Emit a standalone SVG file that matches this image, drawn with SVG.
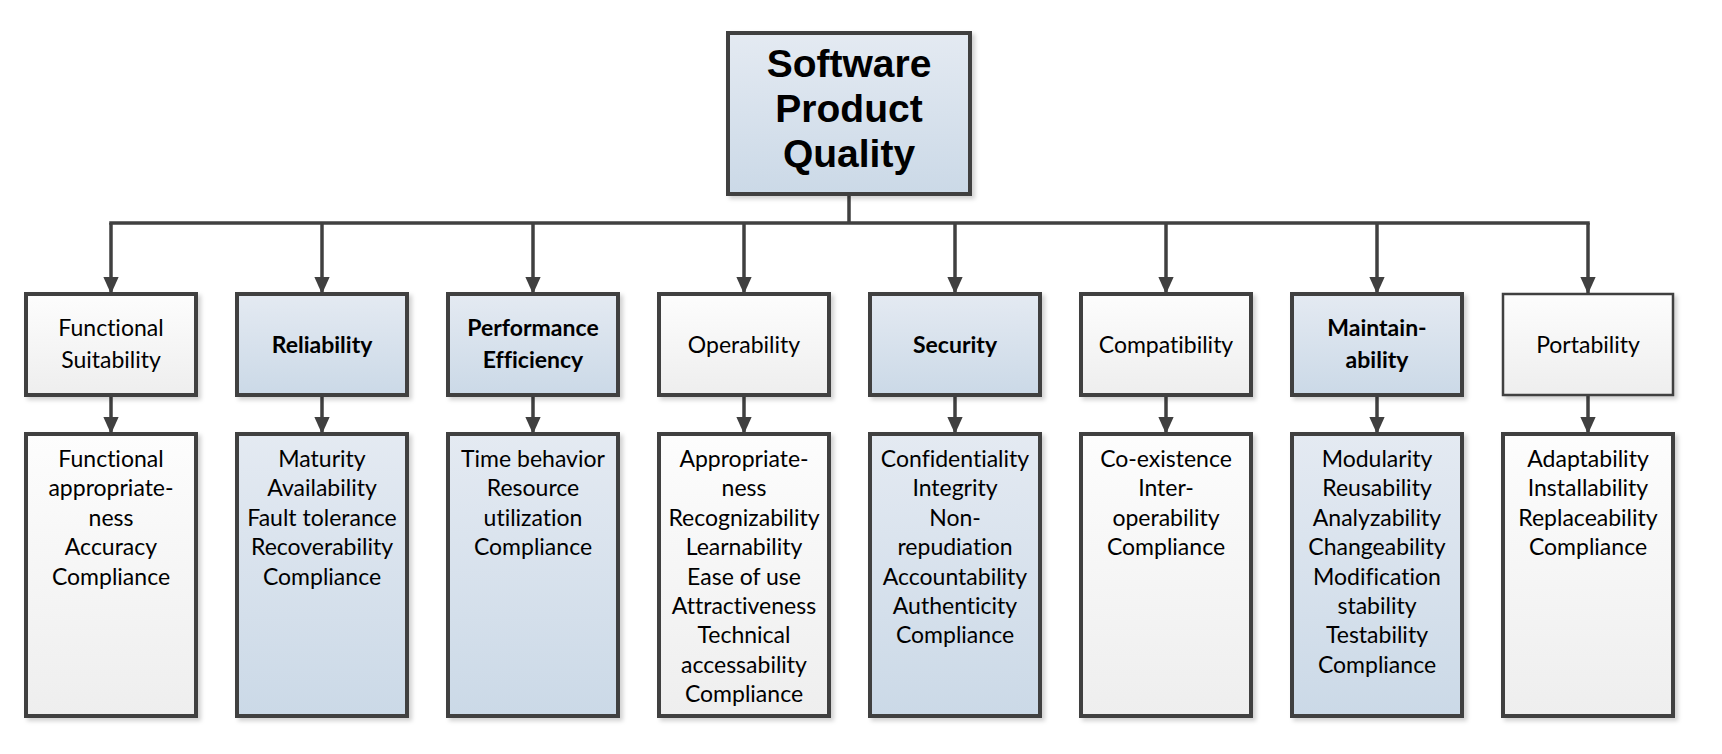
<svg xmlns="http://www.w3.org/2000/svg" width="1722" height="754" viewBox="0 0 1722 754">
<defs>
<linearGradient id="gBlue" x1="0" y1="0" x2="0" y2="1"><stop offset="0" stop-color="#e4eaf2"/><stop offset="1" stop-color="#cbd9e7"/></linearGradient>
<linearGradient id="gGray" x1="0" y1="0" x2="0" y2="1"><stop offset="0" stop-color="#fdfdfd"/><stop offset="1" stop-color="#eeeeee"/></linearGradient>
<filter id="sh" x="-10%" y="-10%" width="130%" height="130%"><feDropShadow dx="3" dy="3" stdDeviation="2" flood-color="#000" flood-opacity="0.18"/></filter>
<marker id="ah" viewBox="0 0 10 10" refX="10" refY="5" markerWidth="17" markerHeight="17" markerUnits="userSpaceOnUse" orient="auto"><path d="M0,0.5 L10,5 L0,9.5 Z" fill="#404040"/></marker>
<style>
.box{stroke:#404040;stroke-width:4;filter:url(#sh)}
.blue{fill:url(#gBlue)}
.gray{fill:url(#gGray)}
.t{font-family:Lato,"Open Sans",sans-serif;font-size:23px;fill:#000;text-anchor:middle;font-variant-ligatures:none}
.b{font-weight:bold}
.top{font-family:"Liberation Sans",Arial,sans-serif;font-weight:bold;font-size:39px;fill:#000;text-anchor:middle}
.ln{stroke:#404040;stroke-width:3.5;fill:none}
.ar{stroke:#404040;stroke-width:3.5;fill:none;marker-end:url(#ah)}
</style>
</defs>
<g id="connectors">
<path class="ln" d="M849,194 V223 M109.25,223 H1589.75"/>
<line class="ar" x1="111" y1="223" x2="111" y2="294"/>
<line class="ar" x1="322" y1="223" x2="322" y2="294"/>
<line class="ar" x1="533" y1="223" x2="533" y2="294"/>
<line class="ar" x1="744" y1="223" x2="744" y2="294"/>
<line class="ar" x1="955" y1="223" x2="955" y2="294"/>
<line class="ar" x1="1166" y1="223" x2="1166" y2="294"/>
<line class="ar" x1="1377" y1="223" x2="1377" y2="294"/>
<line class="ar" x1="1588" y1="223" x2="1588" y2="294"/>
<line class="ar" x1="111" y1="395" x2="111" y2="434"/>
<line class="ar" x1="322" y1="395" x2="322" y2="434"/>
<line class="ar" x1="533" y1="395" x2="533" y2="434"/>
<line class="ar" x1="744" y1="395" x2="744" y2="434"/>
<line class="ar" x1="955" y1="395" x2="955" y2="434"/>
<line class="ar" x1="1166" y1="395" x2="1166" y2="434"/>
<line class="ar" x1="1377" y1="395" x2="1377" y2="434"/>
<line class="ar" x1="1588" y1="395" x2="1588" y2="434"/>
</g>
<g id="root">
<rect class="box blue" x="728" y="33" width="242" height="161"/>
<text class="top" x="849" y="77">Software</text>
<text class="top" x="849" y="122">Product</text>
<text class="top" x="849" y="167">Quality</text>
</g>
<g id="functional">
<rect class="box gray" x="26" y="294" width="170" height="101"/>
<text class="t" x="111" y="336">Functional</text>
<text class="t" x="111" y="368">Suitability</text>
</g>
<g id="reliability">
<rect class="box blue" x="237" y="294" width="170" height="101"/>
<text class="t b" x="322" y="353">Reliability</text>
</g>
<g id="performance">
<rect class="box blue" x="448" y="294" width="170" height="101"/>
<text class="t b" x="533" y="336">Performance</text>
<text class="t b" x="533" y="368">Efficiency</text>
</g>
<g id="operability">
<rect class="box gray" x="659" y="294" width="170" height="101"/>
<text class="t" x="744" y="353">Operability</text>
</g>
<g id="security">
<rect class="box blue" x="870" y="294" width="170" height="101"/>
<text class="t b" x="955" y="353">Security</text>
</g>
<g id="compatibility">
<rect class="box gray" x="1081" y="294" width="170" height="101"/>
<text class="t" x="1166" y="353">Compatibility</text>
</g>
<g id="maintainability">
<rect class="box blue" x="1292" y="294" width="170" height="101"/>
<text class="t b" x="1377" y="336">Maintain-</text>
<text class="t b" x="1377" y="368">ability</text>
</g>
<g id="portability">
<rect class="box gray" x="1503" y="294" width="170" height="101" style="stroke-width:2.5"/>
<text class="t" x="1588" y="353">Portability</text>
</g>
<g id="functional-sub">
<rect class="box gray" x="26" y="434" width="170" height="282"/>
<text class="t" x="111" y="467">Functional</text>
<text class="t" x="111" y="496.4">appropriate-</text>
<text class="t" x="111" y="525.8">ness</text>
<text class="t" x="111" y="555.2">Accuracy</text>
<text class="t" x="111" y="584.6">Compliance</text>
</g>
<g id="reliability-sub">
<rect class="box blue" x="237" y="434" width="170" height="282"/>
<text class="t" x="322" y="467">Maturity</text>
<text class="t" x="322" y="496.4">Availability</text>
<text class="t" x="322" y="525.8">Fault tolerance</text>
<text class="t" x="322" y="555.2">Recoverability</text>
<text class="t" x="322" y="584.6">Compliance</text>
</g>
<g id="performance-sub">
<rect class="box blue" x="448" y="434" width="170" height="282"/>
<text class="t" x="533" y="467">Time behavior</text>
<text class="t" x="533" y="496.4">Resource</text>
<text class="t" x="533" y="525.8">utilization</text>
<text class="t" x="533" y="555.2">Compliance</text>
</g>
<g id="operability-sub">
<rect class="box gray" x="659" y="434" width="170" height="282"/>
<text class="t" x="744" y="467">Appropriate-</text>
<text class="t" x="744" y="496.4">ness</text>
<text class="t" x="744" y="525.8">Recognizability</text>
<text class="t" x="744" y="555.2">Learnability</text>
<text class="t" x="744" y="584.6">Ease of use</text>
<text class="t" x="744" y="614">Attractiveness</text>
<text class="t" x="744" y="643.4">Technical</text>
<text class="t" x="744" y="672.8">accessability</text>
<text class="t" x="744" y="702.2">Compliance</text>
</g>
<g id="security-sub">
<rect class="box blue" x="870" y="434" width="170" height="282"/>
<text class="t" x="955" y="467">Confidentiality</text>
<text class="t" x="955" y="496.4">Integrity</text>
<text class="t" x="955" y="525.8">Non-</text>
<text class="t" x="955" y="555.2">repudiation</text>
<text class="t" x="955" y="584.6">Accountability</text>
<text class="t" x="955" y="614">Authenticity</text>
<text class="t" x="955" y="643.4">Compliance</text>
</g>
<g id="compatibility-sub">
<rect class="box gray" x="1081" y="434" width="170" height="282"/>
<text class="t" x="1166" y="467">Co-existence</text>
<text class="t" x="1166" y="496.4">Inter-</text>
<text class="t" x="1166" y="525.8">operability</text>
<text class="t" x="1166" y="555.2">Compliance</text>
</g>
<g id="maintainability-sub">
<rect class="box blue" x="1292" y="434" width="170" height="282"/>
<text class="t" x="1377" y="467">Modularity</text>
<text class="t" x="1377" y="496.4">Reusability</text>
<text class="t" x="1377" y="525.8">Analyzability</text>
<text class="t" x="1377" y="555.2">Changeability</text>
<text class="t" x="1377" y="584.6">Modification</text>
<text class="t" x="1377" y="614">stability</text>
<text class="t" x="1377" y="643.4">Testability</text>
<text class="t" x="1377" y="672.8">Compliance</text>
</g>
<g id="portability-sub">
<rect class="box gray" x="1503" y="434" width="170" height="282"/>
<text class="t" x="1588" y="467">Adaptability</text>
<text class="t" x="1588" y="496.4">Installability</text>
<text class="t" x="1588" y="525.8">Replaceability</text>
<text class="t" x="1588" y="555.2">Compliance</text>
</g>
</svg>
